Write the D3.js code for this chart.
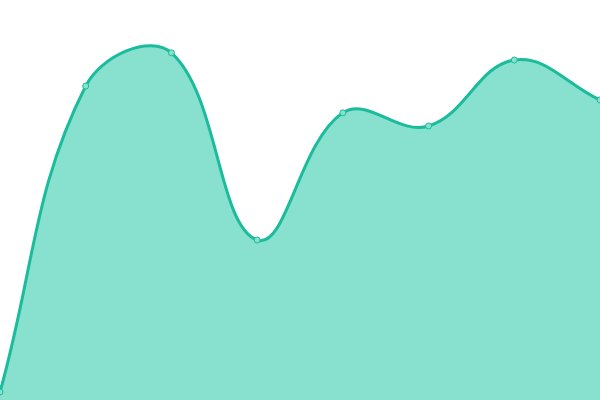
<!DOCTYPE html>
<html>
<head>
<meta charset="utf-8">
<script src="https://cdn.jsdelivr.net/npm/d3@7"></script>
<style>
  html, body { margin: 0; padding: 0; background: #fff; }
  svg { display: block; }
</style>
</head>
<body>
<div id="chart"></div>
<script>
const categories = ["A", "B", "C", "D", "E", "F", "G", "H"];
const values = [2, 78.5, 86.8, 40, 71.8, 68.5, 85, 75];

const width = 600, height = 400;
const TENSION = 0.4;

// spline with distance weighted control points (like chart.js tension)
function SplineCurve(context) { this._context = context; }
SplineCurve.prototype = {
    areaStart() { this._line = 0; },
    areaEnd() { this._line = NaN; },
    lineStart() { this._x = []; this._y = []; },
    point(x, y) { this._x.push(+x); this._y.push(+y); },
    lineEnd() {
        const xs = this._x, ys = this._y, n = xs.length, ctx = this._context;
        if (n) {
            this._line ? ctx.lineTo(xs[0], ys[0]) : ctx.moveTo(xs[0], ys[0]);
            const cp = [];
            for (let i = 0; i < n; i++) {
                const p = i > 0 ? i - 1 : i, q = i < n - 1 ? i + 1 : i;
                const d01 = Math.hypot(xs[i] - xs[p], ys[i] - ys[p]);
                const d12 = Math.hypot(xs[q] - xs[i], ys[q] - ys[i]);
                let s01 = d01 / (d01 + d12), s12 = d12 / (d01 + d12);
                if (isNaN(s01)) s01 = 0;
                if (isNaN(s12)) s12 = 0;
                const fa = TENSION * s01, fb = TENSION * s12;
                const dx = xs[q] - xs[p], dy = ys[q] - ys[p];
                cp.push({
                    px: xs[i] - fa * dx, py: ys[i] - fa * dy,
                    nx: xs[i] + fb * dx, ny: ys[i] + fb * dy
                });
            }
            for (let i = 1; i < n; i++) {
                ctx.bezierCurveTo(cp[i - 1].nx, cp[i - 1].ny, cp[i].px, cp[i].py, xs[i], ys[i]);
            }
        }
        if (this._line || (this._line !== 0 && n === 1)) ctx.closePath();
        this._line = 1 - this._line;
    }
};
const curve = ctx => new SplineCurve(ctx);

const svg = d3.select("#chart")
    .append("svg")
    .attr("width", width)
    .attr("height", height);

const xScale = d3.scalePoint()
    .domain(categories)
    .range([0, width]);

const yScale = d3.scaleLinear()
    .domain([0, 100])
    .range([height, 0]);

const data = categories.map((c, i) => ({ cat: c, value: values[i] }));

const area = d3.area()
    .x(d => xScale(d.cat))
    .y0(yScale(0))
    .y1(d => yScale(d.value))
    .curve(curve);

const line = d3.line()
    .x(d => xScale(d.cat))
    .y(d => yScale(d.value))
    .curve(curve);

svg.append("path")
    .datum(data)
    .attr("d", area)
    .attr("fill", "#88e0cf");

svg.append("path")
    .datum(data)
    .attr("d", line)
    .attr("fill", "none")
    .attr("stroke", "#1abc9c")
    .attr("stroke-width", 3);

svg.selectAll("circle")
    .data(data)
    .join("circle")
    .attr("cx", d => xScale(d.cat))
    .attr("cy", d => yScale(d.value))
    .attr("r", 3)
    .attr("fill", "#88e0cf")
    .attr("stroke", "#1abc9c")
    .attr("stroke-width", 1);
</script>
</body>
</html>
